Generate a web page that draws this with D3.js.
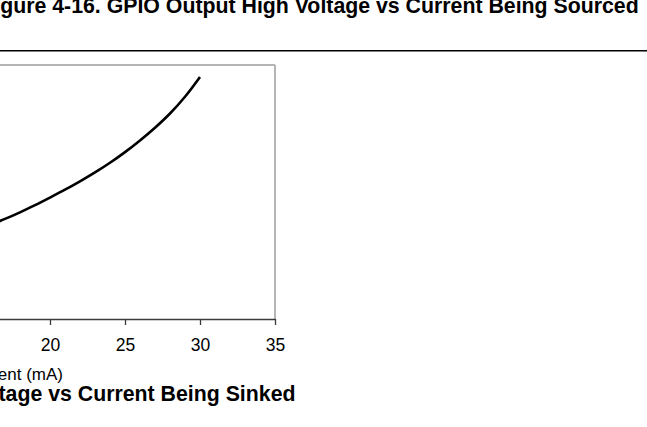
<!DOCTYPE html>
<html>
<head>
<meta charset="utf-8">
<script src="https://cdn.jsdelivr.net/npm/d3@7"></script>
<style>
  html, body { margin: 0; padding: 0; background: #fff; overflow: hidden; }
  svg { display: block; font-family: Arial, "Liberation Sans", sans-serif; }
</style>
</head>
<body>
<svg id="chart" width="647" height="427"></svg>
<script>
// Data (y values are an estimated voltage in V)
const currentMA = [16, 17, 18, 19, 20, 21, 22, 23, 24, 25, 26, 27, 28, 29, 30];
const voltageV  = [0.370, 0.394, 0.420, 0.448, 0.478, 0.509, 0.542, 0.577, 0.615, 0.657, 0.703, 0.753, 0.809, 0.875, 0.953];
const xTicks = [20, 25, 30, 35];
const topTitle = "Figure 4-16. GPIO Output High Voltage vs Current Being Sourced";
const bottomTitle = "Figure 4-17. GPIO Output Low Voltage vs Current Being Sinked";
const xLabel = "Current (mA)";

const svg = d3.select("#chart");

// Layout
const plot = { left: -250, right: 275, top: 65, bottom: 319 };

const x = d3.scaleLinear().domain([0, 35]).range([plot.left, plot.right]);
const y = d3.scaleLinear().domain([0, 1]).range([plot.bottom, plot.top]);

// Top title
svg.append("text")
  .attr("x", -18.8).attr("y", 13)
  .attr("font-size", 21.3).attr("font-weight", "bold").attr("fill", "#000")
  .text(topTitle);

// Rule under title
svg.append("line")
  .attr("x1", 0).attr("x2", 647).attr("y1", 50.7).attr("y2", 50.7)
  .attr("stroke", "#000").attr("stroke-width", 1.4);

// Plot frame (top and right in light gray)
svg.append("line")
  .attr("x1", plot.left).attr("x2", plot.right)
  .attr("y1", plot.top).attr("y2", plot.top)
  .attr("stroke", "#b5b5b5").attr("stroke-width", 2);
svg.append("line")
  .attr("x1", plot.right).attr("x2", plot.right)
  .attr("y1", plot.top).attr("y2", plot.bottom)
  .attr("stroke", "#b5b5b5").attr("stroke-width", 2);

// X axis
const xAxis = d3.axisBottom(x)
  .tickValues(xTicks)
  .tickSize(6)
  .tickSizeOuter(0)
  .tickPadding(13.5)
  .tickFormat(d3.format("d"));

const gx = svg.append("g")
  .attr("transform", `translate(0,${plot.bottom})`)
  .call(xAxis);
gx.select(".domain").attr("stroke", "#3a3a3a").attr("stroke-width", 1.6);
gx.selectAll(".tick line").attr("stroke", "#3a3a3a").attr("stroke-width", 1.3);
gx.selectAll(".tick text")
  .attr("font-size", 17.5).attr("fill", "#000")
  .attr("font-family", "Arial, 'Liberation Sans', sans-serif");

// X label
svg.append("text")
  .attr("x", 63).attr("y", 379.5)
  .attr("text-anchor", "end")
  .attr("font-size", 17).attr("fill", "#000")
  .text(xLabel);

// Bottom title
svg.append("text")
  .attr("x", 295.5).attr("y", 401)
  .attr("text-anchor", "end")
  .attr("font-size", 21.3).attr("font-weight", "bold").attr("fill", "#000")
  .text(bottomTitle);

// Curve
const pts = currentMA.map((c, i) => [c, voltageV[i]]);
const line = d3.line()
  .x(d => x(d[0]))
  .y(d => y(d[1]))
  .curve(d3.curveCatmullRom);

svg.append("path")
  .datum(pts)
  .attr("d", line)
  .attr("fill", "none")
  .attr("stroke", "#000")
  .attr("stroke-width", 2.6)
  .attr("stroke-linejoin", "round");
</script>
</body>
</html>
